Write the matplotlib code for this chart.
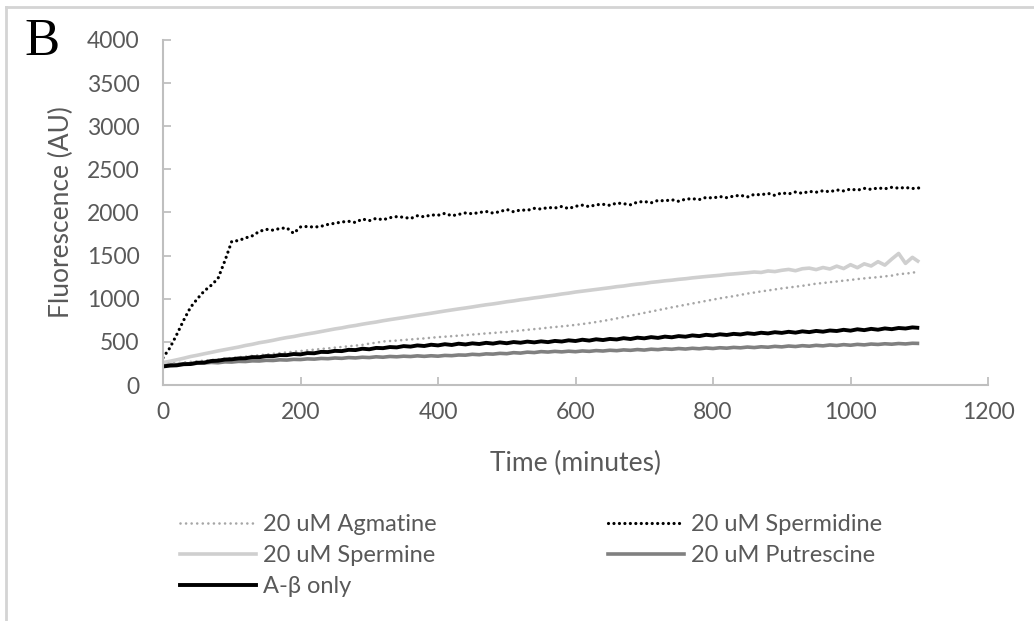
import matplotlib
matplotlib.use('Agg')
from matplotlib import pyplot as plt
from matplotlib.lines import Line2D
import numpy as np

# sampling times (minutes)
time = np.arange(0, 1101, 10)

agmatine = [240, 247, 254, 261, 268, 275, 283, 290, 298, 306, 314, 322, 330, 338, 346, 354, 362, 370,
            378, 386, 394, 402, 410, 418, 425, 433, 441, 449, 457, 465, 480, 490, 505, 510, 515, 522,
            528, 535, 540, 548, 555, 560, 566, 572, 578, 585, 591, 598, 603, 610, 615, 624, 632, 640,
            648, 655, 665, 672, 680, 688, 697, 707, 718, 730, 743, 757, 772, 788, 804, 820, 836, 852,
            868, 884, 900, 915, 930, 945, 960, 975, 990, 1005, 1018, 1030, 1045, 1060, 1072, 1085,
            1096, 1108, 1120, 1130, 1140, 1150, 1162, 1175, 1182, 1192, 1200, 1210, 1218, 1228, 1236,
            1244, 1250, 1260, 1268, 1285, 1292, 1300, 1322]

spermidine = [316, 430, 585, 750, 900, 1000, 1090, 1155, 1235, 1440, 1665, 1675, 1705, 1730, 1780,
              1805, 1795, 1815, 1822, 1758, 1832, 1838, 1830, 1840, 1862, 1875, 1890, 1898, 1884, 1925,
              1905, 1932, 1915, 1940, 1952, 1945, 1930, 1962, 1950, 1972, 1968, 1990, 1962, 1978, 1995,
              1985, 2000, 2012, 1993, 2010, 2035, 2008, 2030, 2025, 2048, 2040, 2058, 2052, 2070, 2045,
              2072, 2085, 2068, 2090, 2095, 2083, 2110, 2102, 2090, 2120, 2128, 2112, 2140, 2135, 2148,
              2130, 2155, 2160, 2150, 2175, 2168, 2185, 2172, 2190, 2200, 2180, 2210, 2205, 2222, 2198,
              2228, 2215, 2238, 2222, 2245, 2235, 2252, 2240, 2262, 2250, 2272, 2258, 2280, 2268, 2285,
              2275, 2292, 2282, 2290, 2278, 2285]

spermine = [260, 275, 292, 310, 330, 345, 362, 378, 395, 410, 425, 440, 458, 472, 490, 503, 518, 535,
            550, 562, 578, 592, 605, 620, 635, 650, 662, 678, 690, 705, 718, 730, 745, 758, 770, 782,
            795, 808, 820, 832, 845, 858, 870, 882, 893, 905, 918, 930, 940, 952, 965, 975, 988, 998,
            1010, 1020, 1032, 1042, 1055, 1065, 1078, 1088, 1098, 1108, 1118, 1128, 1140, 1148, 1160,
            1170, 1178, 1190, 1198, 1208, 1215, 1225, 1232, 1242, 1250, 1258, 1265, 1272, 1282, 1288,
            1295, 1302, 1310, 1305, 1322, 1315, 1330, 1340, 1325, 1348, 1355, 1338, 1362, 1345, 1378,
            1350, 1395, 1360, 1405, 1380, 1430, 1390, 1460, 1525, 1410, 1480, 1425]

putrescine = [232, 238, 236, 246, 245, 253, 255, 262, 258, 268, 266, 274, 272, 280, 278, 286, 284, 292,
              289, 297, 295, 303, 300, 308, 305, 313, 309, 318, 314, 322, 318, 327, 322, 331, 327, 334,
              330, 338, 332, 339, 334, 343, 340, 348, 346, 356, 351, 361, 358, 367, 363, 375, 370, 381,
              376, 387, 382, 390, 384, 392, 386, 395, 390, 399, 394, 403, 398, 407, 402, 411, 405, 415,
              410, 419, 414, 423, 417, 426, 420, 429, 423, 432, 427, 436, 431, 440, 434, 443, 438, 448,
              442, 452, 446, 456, 450, 460, 454, 464, 458, 468, 461, 471, 465, 475, 470, 478, 473, 481,
              476, 484, 482]

abeta_only = [215, 225, 228, 241, 243, 258, 260, 278, 282, 295, 298, 308, 310, 323, 322, 335, 334, 347,
              346, 359, 355, 370, 368, 384, 382, 396, 393, 408, 405, 421, 414, 430, 427, 440, 436, 451,
              445, 459, 452, 467, 459, 473, 464, 479, 470, 483, 475, 489, 480, 494, 484, 498, 490, 503,
              494, 506, 497, 511, 504, 518, 510, 525, 515, 530, 521, 534, 528, 543, 533, 549, 541, 555,
              546, 561, 553, 567, 560, 575, 567, 582, 574, 588, 580, 593, 586, 600, 592, 606, 598, 612,
              604, 617, 607, 622, 613, 627, 618, 632, 626, 640, 630, 646, 636, 651, 641, 656, 647, 661,
              655, 668, 662]

x_ticks = [0, 200, 400, 600, 800, 1000, 1200]
y_ticks = [0, 500, 1000, 1500, 2000, 2500, 3000, 3500, 4000]

plt.rcParams['font.family'] = ['Lato', 'DejaVu Sans']

fig = plt.figure(figsize=(10.34, 6.21), dpi=100)
ax = fig.add_axes([163 / 1034, 1 - 385 / 621, 825 / 1034, 345 / 621])

dots_ag = (0, (0.01, 2.1))
dots_sd = (0, (0.01, 1.7))

ax.plot(time, putrescine, color='#808080', lw=2.6, solid_capstyle='butt')
ax.plot(time, spermine, color='#cfcfcf', lw=2.6, solid_capstyle='butt')
ax.plot(time, agmatine, color='#a6a6a6', lw=1.9, linestyle=dots_ag, dash_capstyle='round')
ax.plot(time, abeta_only, color='black', lw=2.8, solid_capstyle='butt')
ax.plot(time, spermidine, color='black', lw=2.3, linestyle=dots_sd, dash_capstyle='round')

ax.set_xlim(0, 1200)
ax.set_ylim(0, 4000)
ax.set_xticks(x_ticks)
ax.set_yticks(y_ticks)
for s in ['top', 'right']:
    ax.spines[s].set_visible(False)
for s in ['left', 'bottom']:
    ax.spines[s].set_color('#bfbfbf')
    ax.spines[s].set_linewidth(1.5)
ax.tick_params(axis='both', direction='in', length=6, width=1.3, color='#bfbfbf',
               labelcolor='#595959', labelsize=16.5)
ax.tick_params(axis='y', pad=17)
ax.tick_params(axis='x', pad=12)

ax.set_xlabel('Time (minutes)', fontsize=19, color='#595959')
ax.xaxis.set_label_coords(0.5, -0.19)
ax.set_ylabel('Fluorescence (AU)', fontsize=19, color='#595959')
ax.yaxis.set_label_coords(-0.108, 0.5)

fig.text(24 / 1034, 1 - 55 / 621, 'B', fontsize=38, family='Liberation Serif', color='black')

# legend, two columns
h_ag = Line2D([], [], color='#a6a6a6', lw=1.9, linestyle=dots_ag, dash_capstyle='round')
h_sp = Line2D([], [], color='#cfcfcf', lw=2.6)
h_ab = Line2D([], [], color='black', lw=2.8)
h_sd = Line2D([], [], color='black', lw=2.3, linestyle=dots_sd, dash_capstyle='round')
h_pu = Line2D([], [], color='#808080', lw=2.6)

leg_kw = dict(frameon=False, handlelength=3.2, handletextpad=0.33,
              labelspacing=0.43, borderpad=0, borderaxespad=0, labelcolor='#595959',
              prop={'family': ['Liberation Sans Narrow', 'Lato'], 'size': 17})
leg1 = fig.legend([h_ag, h_sp, h_ab], ['20 uM Agmatine', '20 uM Spermine', 'A-β only'],
                  loc='upper left', bbox_to_anchor=(180 / 1034, 1 - 514 / 621), **leg_kw)
leg2 = fig.legend([h_sd, h_pu], ['20 uM Spermidine', '20 uM Putrescine'],
                  loc='upper left', bbox_to_anchor=(608 / 1034, 1 - 514 / 621), **leg_kw)

# cropped outer frame of the original figure
fig.add_artist(Line2D([6 / 1034, 6 / 1034], [0, 1 - 7 / 621], color='#d4d4d4', lw=2))
fig.add_artist(Line2D([6 / 1034, 1], [1 - 7 / 621, 1 - 7 / 621], color='#d4d4d4', lw=2))

plt.savefig('out.png', dpi=100)
